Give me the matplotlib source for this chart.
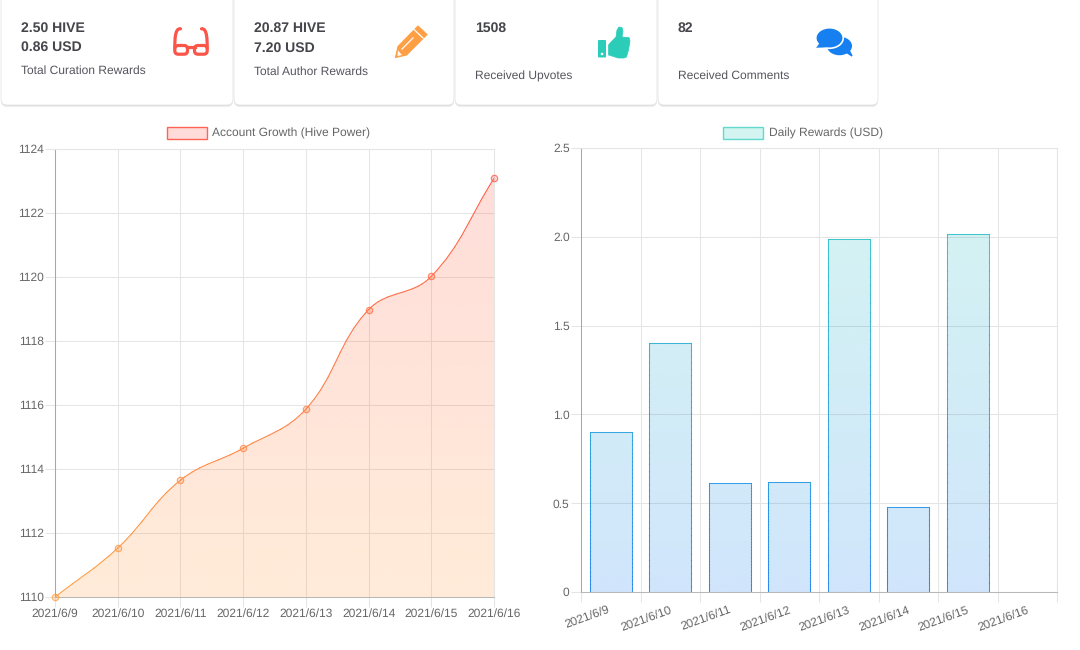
import numpy as np
import matplotlib
matplotlib.use('Agg')
import matplotlib.pyplot as plt
from matplotlib.path import Path
from matplotlib.patches import PathPatch, FancyBboxPatch, Rectangle, Polygon, Ellipse, Circle
from matplotlib.collections import LineCollection
from matplotlib.transforms import offset_copy

plt.rcParams['font.family'] = ['Liberation Sans', 'DejaVu Sans']
plt.rcParams['text.hinting'] = 'none'

# chart data
dates = ['2021/6/9', '2021/6/10', '2021/6/11', '2021/6/12', '2021/6/13', '2021/6/14', '2021/6/15', '2021/6/16']
hive_power = [1110.0, 1111.53, 1113.65, 1114.65, 1115.87, 1118.98, 1120.02, 1123.08]
daily_rewards = [0.90, 1.40, 0.615, 0.62, 1.985, 0.48, 2.015, 0.0]
power_ticks = [1110, 1112, 1114, 1116, 1118, 1120, 1122, 1124]
reward_ticks = [0, 0.5, 1.0, 1.5, 2.0, 2.5]
reward_tick_labels = ['0', '0.5', '1.0', '1.5', '2.0', '2.5']

# card text
card_lines = [['2.50 HIVE', '0.86 USD'], ['20.87 HIVE', '7.20 USD'], ['1508'], ['82']]
card_labels = ['Total Curation Rewards', 'Total Author Rewards', 'Received Upvotes', 'Received Comments']

W, H = 1080, 650
GRID = '#e5e5e5'
TEXT = '#666666'
RED, ORANGE = (1.0, 0.33, 0.27), (1.0, 0.62, 0.25)
TEAL, BLUE = (0.16, 0.80, 0.73), (0.09, 0.50, 0.94)
FS = 8.64  # 12px


def mix(top, bottom, t):
    return tuple(a + (b - a) * t for a, b in zip(top, bottom))


def px_axes(left, top, right, bottom):
    return fig.add_axes([left / W, 1 - bottom / H, (right - left) / W, (bottom - top) / H])


def gradient(ax, top, bottom, alpha, clip):
    # vertical gradient over the whole plot area, clipped to a patch
    t = np.linspace(0, 1, 256)[:, None]
    img = np.zeros((256, 1, 4))
    for i in range(3):
        img[:, :, i] = top[i] + (bottom[i] - top[i]) * t
    img[:, :, 3] = alpha
    x0, x1 = ax.get_xlim()
    y0, y1 = ax.get_ylim()
    im = ax.imshow(img, extent=[x0, x1, y0, y1], aspect='auto', origin='upper', zorder=2, interpolation='bilinear')
    im.set_clip_path(clip)
    ax.set_xlim(x0, x1)
    ax.set_ylim(y0, y1)


def style_axes(ax):
    ax.grid(True, color=GRID, linewidth=0.75)
    ax.set_axisbelow(True)
    ax.tick_params(length=7.2, width=0.75, color=GRID, labelcolor=TEXT, labelsize=FS, pad=1.0)
    for s in ['top', 'right']:
        ax.spines[s].set_color(GRID)
        ax.spines[s].set_linewidth(0.75)
    ax.spines['left'].set_color('#a8a8a8')
    ax.spines['bottom'].set_color('#b8b8b8')
    ax.spines['left'].set_linewidth(0.75)
    ax.spines['bottom'].set_linewidth(0.75)


def spline_path(xs, ys, tension=0.4):
    # same bezier construction the original chart library uses
    verts = [(xs[0], ys[0])]
    codes = [Path.MOVETO]
    sx, sy = 439 / 7, 448 / 14
    n = len(xs)
    for i in range(n - 1):
        p0 = (xs[max(i - 1, 0)], ys[max(i - 1, 0)])
        p1 = (xs[i], ys[i])
        p2 = (xs[i + 1], ys[i + 1])
        p3 = (xs[min(i + 2, n - 1)], ys[min(i + 2, n - 1)])
        d01 = np.hypot((p1[0] - p0[0]) * sx, (p1[1] - p0[1]) * sy)
        d12 = np.hypot((p2[0] - p1[0]) * sx, (p2[1] - p1[1]) * sy)
        d23 = np.hypot((p3[0] - p2[0]) * sx, (p3[1] - p2[1]) * sy)
        fa = tension * d12 / (d01 + d12) if d01 + d12 else 0
        fb = tension * d12 / (d12 + d23) if d12 + d23 else 0
        c1 = (p1[0] + fa * (p2[0] - p0[0]), p1[1] + fa * (p2[1] - p0[1]))
        c2 = (p2[0] - fb * (p3[0] - p1[0]), p2[1] - fb * (p3[1] - p1[1]))
        verts += [c1, c2, p2]
        codes += [Path.CURVE4] * 3
    return verts, codes


fig = plt.figure(figsize=(W / 100, H / 100), dpi=100, facecolor='white')

# left chart: account growth
ax1 = px_axes(55, 149, 494, 597)
xpos = np.arange(len(dates))
ax1.set_xlim(0, 7)
ax1.set_ylim(1110, 1124)
style_axes(ax1)
ax1.set_xticks(xpos)
ax1.set_xticklabels(dates)
ax1.set_yticks(power_ticks)

verts, codes = spline_path(list(xpos), hive_power)
# flatten in pixel space so the curve stays smooth, then back to data units
curve_px = Path(verts, codes).to_polygons(transform=ax1.transData, closed_only=False)[0]
curve = ax1.transData.inverted().transform(curve_px)
area_patch = Polygon(np.vstack([curve, [(7, 1110), (0, 1110)]]), closed=True, facecolor='none', edgecolor='none')
ax1.add_patch(area_patch)
gradient(ax1, RED, ORANGE, 0.2, area_patch)

segs = np.stack([curve[:-1], curve[1:]], axis=1)
seg_cols = [mix(RED, ORANGE, (1124 - s[:, 1].mean()) / 14) for s in segs]
ax1.add_collection(LineCollection(segs, colors=seg_cols, linewidths=0.75, zorder=3, capstyle='round'))
for x, y in zip(xpos, hive_power):
    c = mix(RED, ORANGE, (1124 - y) / 14)
    ax1.plot([x], [y], 'o', ms=4.6, mfc=c + (0.25,), mec=c + (0.8,), mew=0.8, zorder=4, clip_on=False)

# right chart: daily rewards
ax2 = px_axes(581, 148, 1057, 592)
ax2.set_xlim(-0.5, 7.5)
ax2.set_ylim(0, 2.5)
style_axes(ax2)
edges = xpos - 0.5
ax2.set_xticks(list(edges) + [7.5])
ax2.set_xticklabels(dates + [''], rotation=20, ha='center', rotation_mode='default')
ax2.set_yticks(reward_ticks)
ax2.set_yticklabels(reward_tick_labels)
for lab in ax2.get_xticklabels():
    lab.set_transform(offset_copy(lab.get_transform(), fig=fig, x=4.2, y=-0.6, units='points'))

bars = ax2.bar(xpos, daily_rewards, width=0.7, facecolor='none', edgecolor='none', zorder=2)
for bar in bars:
    h = bar.get_height()
    if h <= 0:
        continue
    gradient(ax2, TEAL, BLUE, 0.2, bar)
    x0, x1 = bar.get_x(), bar.get_x() + bar.get_width()
    ys = np.linspace(0, h, 40)
    up = [((x0, a), (x0, b)) for a, b in zip(ys[:-1], ys[1:])]
    down = [((x1, a), (x1, b)) for a, b in zip(ys[:-1], ys[1:])]
    cols = [mix(TEAL, BLUE, 1 - (a + b) / 5) for a, b in zip(ys[:-1], ys[1:])]
    ax2.add_collection(LineCollection(up + down, colors=cols + cols, linewidths=0.75, zorder=3, capstyle='projecting', alpha=0.85))
    ax2.plot([x0, x1], [h, h], color=mix(TEAL, BLUE, 1 - h / 2.5), lw=0.75, alpha=0.85, zorder=3, solid_capstyle='butt')

# overlay in pixel coordinates for cards and legends
ov = fig.add_axes([0, 0, 1, 1], zorder=5)
ov.set_xlim(0, W)
ov.set_ylim(H, 0)
ov.axis('off')
ov.patch.set_alpha(0)

# legends
ov.add_patch(Rectangle((166.5, 126.5), 40, 12, facecolor=RED + (0.2,), edgecolor=RED + (0.9,), lw=1))
ov.text(212.5, 133, 'Account Growth (Hive Power)', color=TEXT, fontsize=FS, va='center')
ov.add_patch(Rectangle((723, 126.5), 40, 12, facecolor=TEAL + (0.2,), edgecolor=TEAL + (0.7,), lw=1))
ov.text(769, 133, 'Daily Rewards (USD)', color=TEXT, fontsize=FS, va='center')

# cards
card_x = [(1, 233), (234, 454), (455, 657), (658, 878)]
for (x0, x1) in card_x:
    for k, a in [(2.5, 0.03), (1.5, 0.05), (0.7, 0.1)]:
        ov.add_patch(FancyBboxPatch((x0, -20), x1 - x0, 125 + k, boxstyle='round,pad=0,rounding_size=6',
                                    facecolor=(0, 0, 0, a), edgecolor='none'))
    ov.add_patch(FancyBboxPatch((x0, -20), x1 - x0, 125, boxstyle='round,pad=0,rounding_size=6',
                                facecolor='white', edgecolor='#e6e6e6', lw=0.6))

text_x = [21, 254, 475, 678]
label_y = [71, 72, 76, 76]
for x, lines, label, ly in zip(text_x, card_lines, card_labels, label_y):
    y0 = 28 if x != 254 else 28.5
    for j, t in enumerate(lines):
        ov.text(x, y0 + j * 19.5, t, color='#45454c', fontsize=10.08, fontweight='bold', va='center')
    ov.text(x, ly, label, color='#55555e', fontsize=FS, va='center')

# glasses icon
gc = '#fb5448'
for cx0, cx1, arm_x, tip_x in [(174.8, 187.5, 174.8, 180.5), (194.5, 207.2, 207.2, 201.5)]:
    ov.add_patch(FancyBboxPatch((cx0, 45.5), cx1 - cx0, 8.7, boxstyle='round,pad=0,rounding_size=3.5',
                                facecolor='none', edgecolor=gc, lw=2.3))
    arm = Path([(arm_x, 48), (arm_x, 40), (arm_x, 28), (tip_x, 28.8)],
               [Path.MOVETO, Path.CURVE4, Path.CURVE4, Path.CURVE4])
    ov.add_patch(PathPatch(arm, facecolor='none', edgecolor=gc, lw=2.3, capstyle='round'))
ov.plot([187, 195], [46.5, 46.5], color=gc, lw=2.3)

# pencil icon
pc = '#ff9f43'
ov.add_patch(Polygon([(395.5, 57.5), (398, 46.5), (418, 26), (427, 34.5), (406.5, 55)], closed=True,
                     facecolor=pc, edgecolor=pc, lw=0.8, joinstyle='round'))
ov.plot([414, 423], [29.5, 38], color='white', lw=0.9)
ov.plot([402, 413], [49, 38], color='white', lw=0.9)
ov.add_patch(Polygon([(398, 50.5), (402, 55), (397.5, 56)], closed=True, facecolor='white', edgecolor='none'))

# thumb icon
tc = '#2bcdb9'
ov.add_patch(FancyBboxPatch((598, 40), 8, 17.5, boxstyle='round,pad=0,rounding_size=1', facecolor=tc, edgecolor='none'))
ov.add_patch(Circle((602, 54), 1.3, facecolor='white', edgecolor='none'))
ov.add_patch(Polygon([(608.5, 45), (612, 41), (616, 37), (617, 30), (619, 27), (622, 27.5), (623, 31), (622, 37), (629, 37.5),
                      (630, 41), (628.5, 50), (626.5, 57), (624, 58), (618, 58), (612, 56), (608.5, 55)],
                     closed=True, facecolor=tc, edgecolor=tc, lw=0.5, joinstyle='round'))

# comments icon
cc = '#1680f0'
ov.add_patch(Ellipse((839.5, 46), 25, 18.5, facecolor=cc, edgecolor='none'))
ov.add_patch(Polygon([(846, 52), (852, 56), (849, 50)], closed=True, facecolor=cc, edgecolor=cc))
ov.add_patch(Ellipse((829.5, 38), 27.5, 20.5, facecolor=cc, edgecolor='white', lw=1.2))
ov.add_patch(Polygon([(820, 43), (816.5, 47.5), (827, 47)], closed=True, facecolor=cc, edgecolor=cc, lw=0.3))

fig.savefig('out.png', dpi=100)
